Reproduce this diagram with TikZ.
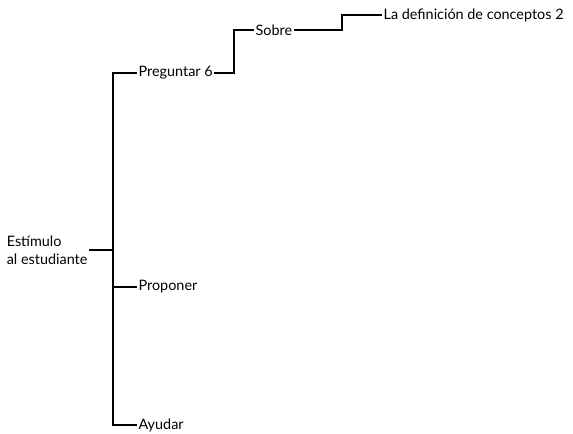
\documentclass[tikz,border=0pt]{standalone}
\usepackage{fontspec}
\setmainfont{Lato}
\usetikzlibrary{positioning}

\begin{document}
\begin{tikzpicture}[
    x=0.75pt, y=-0.75pt,
    every node/.style={font=\fontsize{10.8}{13.5}\selectfont, inner sep=1pt},
    leaf/.style={anchor=west},
    branch/.style={line width=0.8pt}
  ]
  \useasboundingbox (0,0) rectangle (573,434);

  % Root on the left
  \node[anchor=east, align=left] (root) at (89,250) {Estímulo\\al estudiante};
  \coordinate (spine) at (113,250);

  % Children of the root
  \node[leaf] (preguntar) at (137,73) {Preguntar 6};
  \node[leaf] (proponer) at (137,287) {Proponer};
  \node[leaf] (ayudar) at (137,425) {Ayudar};

  % Deeper levels
  \node[leaf] (sobre) at (254,30) {Sobre};
  \node[leaf] (definicion) at (382,15) {La definición de conceptos 2};

  % Lines
  \draw[branch] (root.east) -- (spine);
  \draw[branch] (spine) |- (preguntar.west);
  \draw[branch] (spine) |- (proponer.west);
  \draw[branch] (spine) |- (ayudar.west);
  \draw[branch] (preguntar.east) -- (234,73) |- (sobre.west);
  \draw[branch] (sobre.east) -- (342,30) |- (definicion.west);
\end{tikzpicture}
\end{document}
